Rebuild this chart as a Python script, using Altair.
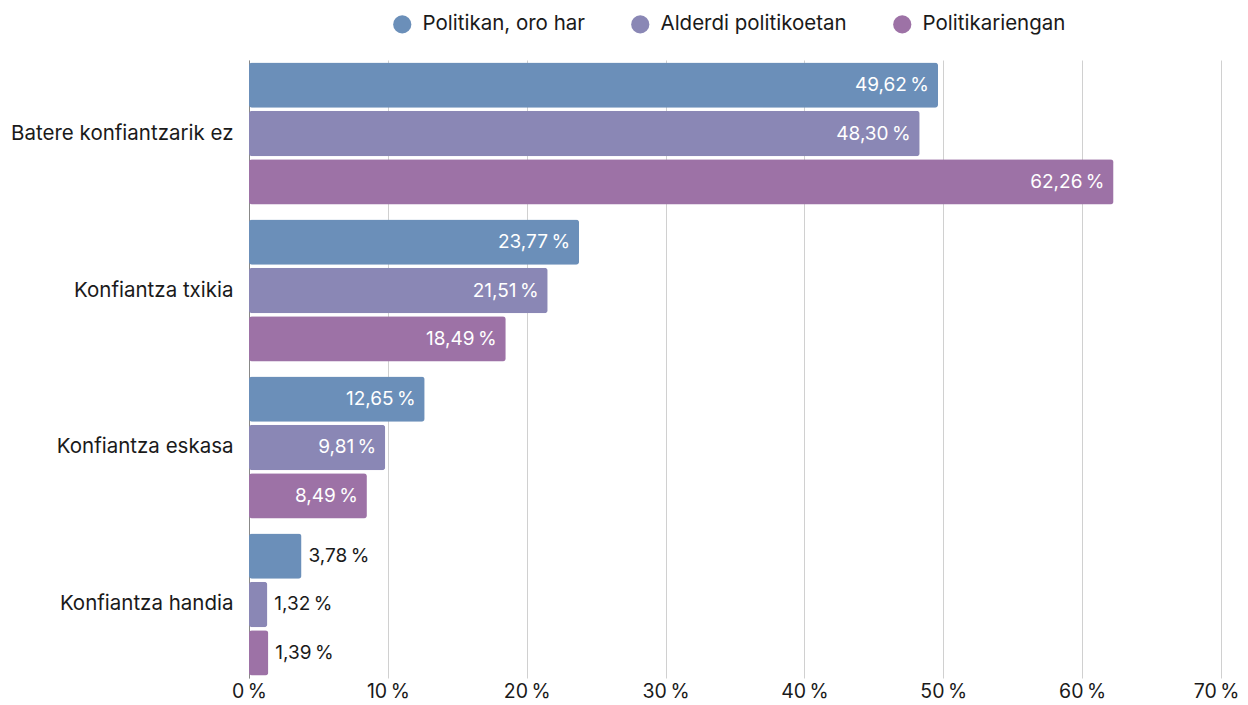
import altair as alt
import pandas as pd

categories = ["Batere konfiantzarik ez", "Konfiantza txikia", "Konfiantza eskasa", "Konfiantza handia"]
series = ["Politikan, oro har", "Alderdi politikoetan", "Politikariengan"]
politikan = [49.62, 23.77, 12.65, 3.78]
alderdi = [48.30, 21.51, 9.81, 1.32]
politikari = [62.26, 18.49, 8.49, 1.39]
colors = ["#6b8fb9", "#8a87b5", "#9d72a6"]
x_ticks = [0, 10, 20, 30, 40, 50, 60, 70]

rows = []
for s, vals in zip(series, [politikan, alderdi, politikari]):
    for c, v in zip(categories, vals):
        rows.append({"cat": c, "ser": s, "val": v,
                     "lbl": f"{v:.2f}".replace(".", ",") + "\u2009%"})
df = pd.DataFrame(rows)

FONT = "Inter"

y = alt.Y("cat:N", sort=categories, title=None,
          scale=alt.Scale(paddingInner=0.0955, paddingOuter=0.016),
          axis=alt.Axis(labelFontSize=20.5, labelColor="#1a1a1a", labelFont=FONT,
                        ticks=False, labelPadding=16, domain=True, domainColor="#888",
                        labelLimit=400))
yoff = alt.YOffset("ser:N", sort=series,
                   scale=alt.Scale(paddingInner=0.0625, paddingOuter=0))
x = alt.X("val:Q", title=None,
          scale=alt.Scale(domain=[0, 70], nice=False),
          axis=alt.Axis(values=x_ticks, labelExpr="datum.value + '\u2009%'",
                        labelFontSize=19.5, labelColor="#1a1a1a", labelFont=FONT,
                        ticks=False, domain=False, grid=True, gridColor="#d0d0d0",
                        labelPadding=4, labelFlush=False,
                        labelAlign={"condition": {"test": "datum.value == 70", "value": "right"},
                                    "value": "center"},
                        labelOffset={"condition": {"test": "datum.value == 70", "value": 18},
                                     "value": 0}))

bars = alt.Chart(df).mark_bar(cornerRadius=3).encode(
    x=x, y=y, yOffset=yoff,
    color=alt.Color("ser:N", sort=series,
                    scale=alt.Scale(domain=series, range=colors),
                    legend=alt.Legend(title=None, orient="none", direction="horizontal",
                                      legendX=143, legendY=-46,
                                      symbolType="circle", symbolSize=330,
                                      symbolOpacity=1, labelFontSize=20.5,
                                      labelFont=FONT, labelColor="#1a1a1a",
                                      labelOffset=10, columnPadding=45,
                                      labelLimit=400,
                                      symbolStrokeWidth=0))
)

inside = alt.Chart(df).transform_filter("datum.val >= 5").mark_text(
    align="right", baseline="middle", dx=-9, color="white", fontSize=19, font=FONT
).encode(x="val:Q", y=alt.Y("cat:N", sort=categories), yOffset=yoff, text="lbl:N")

outside = alt.Chart(df).transform_filter("datum.val < 5").mark_text(
    align="left", baseline="middle", dx=7, color="#1a1a1a", fontSize=19, font=FONT
).encode(x="val:Q", y=alt.Y("cat:N", sort=categories), yOffset=yoff, text="lbl:N")

chart = alt.layer(bars, inside, outside).properties(
    width=972, height=618,
    autosize=alt.AutoSizeParams(type="none"),
    padding={"left": 241, "top": 52, "right": 19, "bottom": 25},
).configure_view(stroke=None)

chart.save("out.html", embed_options={"renderer": "svg", "actions": False})
